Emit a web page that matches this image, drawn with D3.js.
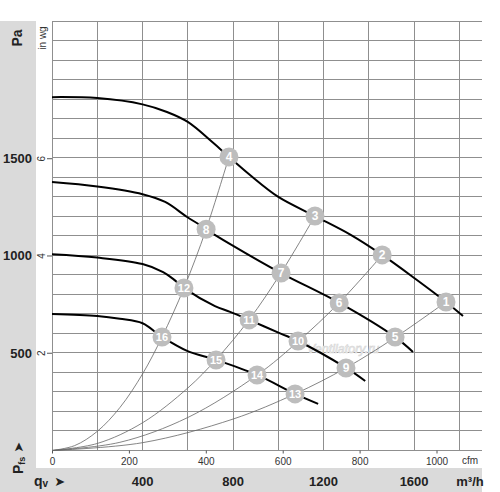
<!DOCTYPE html>
<html>
<head>
<meta charset="utf-8">
<script src="https://cdn.jsdelivr.net/npm/d3@7"></script>
<style>
  html, body { margin: 0; padding: 0; background: #fff; }
  svg { display: block; font-family: "Liberation Sans", Arial, sans-serif; }
</style>
</head>
<body>
<div id="chart"></div>
<script>
// Fan curves: [q (m³/h), Pfs (Pa)]
const fanCurve1 = [[0,1810],[200,1805],[400,1773],[508,1734],[600,1683],[712,1576],[782,1504],[875,1411],[1000,1299],[1162,1201],[1320,1105],[1459,1002],[1605,880],[1741,761],[1816,689]];
const fanCurve2 = [[0,1375],[200,1352],[400,1313],[500,1273],[597,1196],[654,1155],[681,1133],[795,1052],[1010,910],[1270,756],[1515,582],[1595,505]];
const fanCurve3 = [[0,1005],[200,988],[400,955],[491,914],[535,879],[584,832],[720,740],[787,710],[871,669],[1008,600],[1087,561],[1300,423],[1384,356]];
const fanCurve4 = [[0,699],[200,689],[300,675],[400,652],[486,582],[597,510],[725,464],[906,387],[1074,290],[1176,239]];

// System curves through the operating points
const systemA = [[0,0],[100,25],[200,98],[300,220],[400,392],[486,581],[583,832],[681,1133],[782,1504]];
const systemB = [[0,0],[200,36],[400,142],[600,320],[725,466],[871,670],[1012,910],[1162,1201]];
const systemC = [[0,0],[300,42],[600,169],[906,386],[1087,558],[1269,757],[1459,1001]];
const systemD = [[0,0],[400,40],[800,161],[1074,290],[1299,423],[1516,579],[1741,761]];

// Numbered operating points
const pointLabels = ["1","2","3","4","5","6","7","8","9","10","11","12","13","14","15","16"];
const pointQ = [1741,1459,1162,782,1516,1269,1012,681,1299,1087,871,583,1074,906,725,486];
const pointP = [761,1002,1201,1504,581,756,909,1133,423,561,669,832,290,387,464,581];

// Axis ticks
const paTicks = [500, 1000, 1500];
const inwgTicks = [2, 4, 6];
const cfmTicks = [0, 200, 400, 600, 800, 1000];
const m3hTicks = [400, 800, 1200, 1600];

const width = 500, height = 492;
const svg = d3.select("#chart").append("svg")
    .attr("width", width)
    .attr("height", height);

const x = d3.scaleLinear().domain([0, 1900]).range([52, 482]);
const y = d3.scaleLinear().domain([0, 2200]).range([450.5, 21]);
const xCfm = d3.scaleLinear().domain([0, 1900 / 1.699]).range([52, 482]);
const yInwg = d3.scaleLinear().domain([0, 2200 / 249.09]).range([450.5, 21]);

// grey bands
svg.append("rect").attr("x", 0).attr("y", 21).attr("width", 36).attr("height", 447).attr("fill", "#dadada");
svg.append("rect").attr("x", 0).attr("y", 468).attr("width", 482).attr("height", 24).attr("fill", "#dadada");

// grid
const grid = svg.append("g").attr("class", "grid")
    .attr("stroke", "#8f8f8f").attr("stroke-width", 1).attr("shape-rendering", "crispEdges");
grid.selectAll("line.v")
    .data(d3.range(0, 1801, 200))
    .enter().append("line")
    .attr("class", "v")
    .attr("x1", d => x(d)).attr("x2", d => x(d))
    .attr("y1", y(2200)).attr("y2", y(0));
grid.selectAll("line.h")
    .data(d3.range(0, 2201, 100))
    .enter().append("line")
    .attr("class", "h")
    .attr("x1", x(0)).attr("x2", x(1900))
    .attr("y1", d => y(d)).attr("y2", d => y(d));

// in wg ticks (left, inside white area)
const inwgAxis = svg.append("g");
inwgAxis.selectAll("line")
    .data(inwgTicks)
    .enter().append("line")
    .attr("x1", 47).attr("x2", 52)
    .attr("y1", d => yInwg(d)).attr("y2", d => yInwg(d))
    .attr("stroke", "#555");
inwgAxis.selectAll("text")
    .data(inwgTicks)
    .enter().append("text")
    .attr("transform", d => `translate(45,${yInwg(d)}) rotate(-90)`)
    .attr("text-anchor", "middle")
    .style("font-size", "10px")
    .attr("fill", "#333")
    .text(d => d);
svg.append("text")
    .attr("transform", "translate(46,38) rotate(-90)")
    .attr("text-anchor", "middle")
    .style("font-size", "10px")
    .attr("fill", "#333")
    .text("in wg");

// Pa labels
svg.selectAll("text.pa")
    .data(paTicks)
    .enter().append("text")
    .attr("class", "pa")
    .attr("x", 32)
    .attr("y", d => y(d) + 5)
    .attr("text-anchor", "end")
    .style("font-size", "13px")
    .style("font-weight", "bold")
    .attr("fill", "#222")
    .text(d => d);
svg.append("text")
    .attr("transform", "translate(22,38) rotate(-90)")
    .attr("text-anchor", "middle")
    .style("font-size", "14px")
    .style("font-weight", "bold")
    .attr("fill", "#222")
    .text("Pa");

// Pfs label with arrow
const pfs = svg.append("text")
    .attr("transform", "translate(23,474) rotate(-90)")
    .style("font-weight", "bold")
    .attr("fill", "#222");
pfs.append("tspan").style("font-size", "14px").text("P");
pfs.append("tspan").style("font-size", "9px").attr("dy", 2).text("fs");
pfs.append("tspan").style("font-size", "13px").attr("dy", -2).attr("dx", 4)
    .style("font-family", "DejaVu Sans").text("➤");

// cfm axis
const cfmAxis = svg.append("g")
    .attr("transform", `translate(0,${y(0)})`)
    .call(d3.axisBottom(xCfm).tickValues(cfmTicks).tickFormat(d3.format("d")).tickSize(3).tickPadding(4));
cfmAxis.select(".domain").remove();
cfmAxis.selectAll("line").attr("stroke", "#555");
cfmAxis.selectAll("text").style("font-size", "10px").attr("fill", "#333")
    .style("font-family", "Liberation Sans, Arial, sans-serif");
svg.append("text")
    .attr("x", 470).attr("y", 464)
    .attr("text-anchor", "middle")
    .style("font-size", "10px")
    .attr("fill", "#333")
    .text("cfm");

// m³/h labels
svg.selectAll("text.m3h")
    .data(m3hTicks)
    .enter().append("text")
    .attr("class", "m3h")
    .attr("x", d => x(d))
    .attr("y", 486)
    .attr("text-anchor", "middle")
    .style("font-size", "13px")
    .style("font-weight", "bold")
    .attr("fill", "#222")
    .text(d => d);
svg.append("text")
    .attr("x", 470).attr("y", 486)
    .attr("text-anchor", "middle")
    .style("font-size", "13px")
    .style("font-weight", "bold")
    .attr("fill", "#222")
    .text("m³/h");
const qv = svg.append("text")
    .attr("x", 34).attr("y", 486)
    .style("font-weight", "bold")
    .attr("fill", "#222");
qv.append("tspan").style("font-size", "14px").text("q");
qv.append("tspan").style("font-size", "10px").attr("dy", 1).text("v");
qv.append("tspan").style("font-size", "13px").attr("dy", -1).attr("dx", 6)
    .style("font-family", "DejaVu Sans").text("➤");

// watermark
svg.append("text")
    .attr("x", 307).attr("y", 353)
    .style("font-size", "12.5px")
    .style("font-style", "italic")
    .attr("fill", "#fff")
    .attr("stroke", "#d6d6d6")
    .attr("stroke-width", 0.7)
    .text("Ventilatory.ru");

const line = d3.line()
    .x(d => x(d[0]))
    .y(d => y(d[1]))
    .curve(d3.curveCatmullRom);

// system curves
svg.selectAll("path.system")
    .data([systemA, systemB, systemC, systemD])
    .enter().append("path")
    .attr("class", "system")
    .attr("d", line)
    .attr("fill", "none")
    .attr("stroke", "#666")
    .attr("stroke-width", 0.8);

// fan curves
svg.selectAll("path.fan")
    .data([fanCurve1, fanCurve2, fanCurve3, fanCurve4])
    .enter().append("path")
    .attr("class", "fan")
    .attr("d", line)
    .attr("fill", "none")
    .attr("stroke", "#000")
    .attr("stroke-width", 2);

// operating points
const pts = svg.selectAll("g.pt")
    .data(pointLabels)
    .enter().append("g")
    .attr("class", "pt")
    .attr("transform", (d, i) => `translate(${x(pointQ[i])},${y(pointP[i])})`);
pts.append("circle")
    .attr("r", 9.5)
    .attr("fill", "#bdbdbd");
pts.append("text")
    .attr("text-anchor", "middle")
    .attr("dy", "0.36em")
    .style("font-size", d => d.length > 1 ? "11px" : "12px")
    .style("font-weight", "bold")
    .attr("fill", "#fff")
    .text(d => d);
</script>
</body>
</html>
